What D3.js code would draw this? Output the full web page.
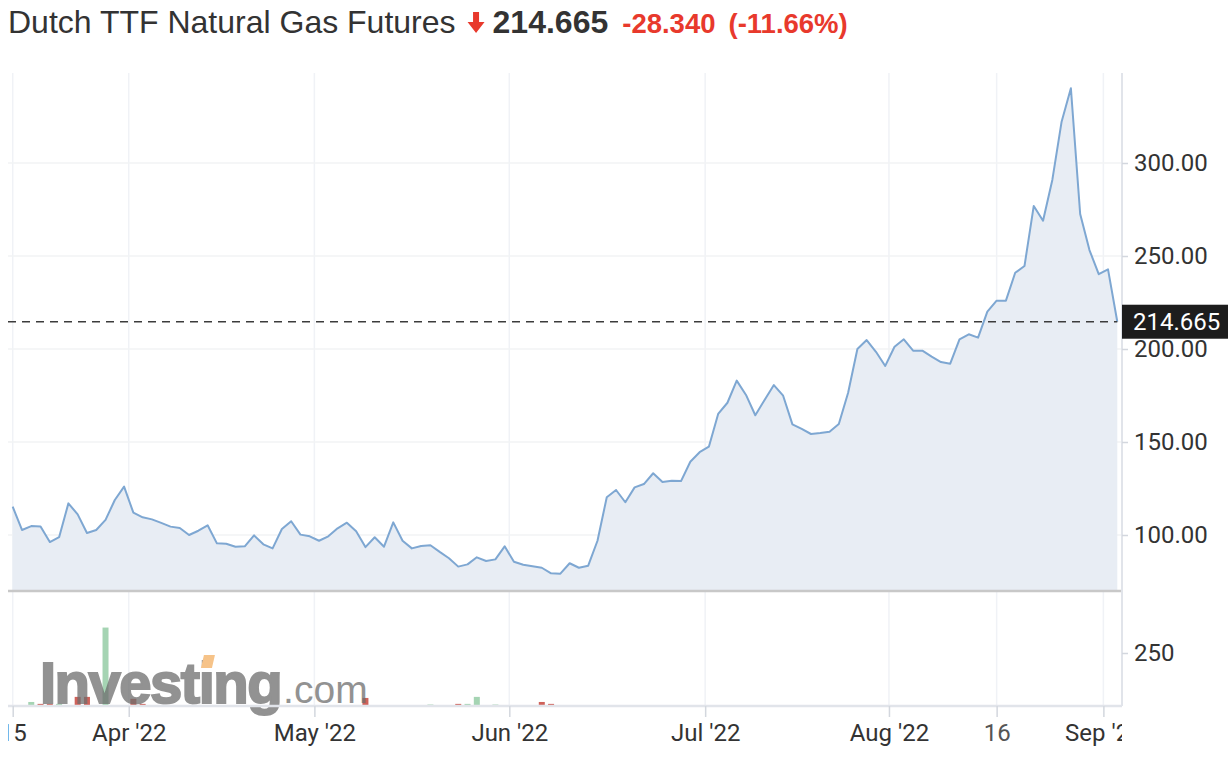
<!DOCTYPE html>
<html lang="en">
<head>
<meta charset="UTF-8">
<title>Dutch TTF Natural Gas Futures</title>
<style>
  body { margin: 0; background: #fff; }
  svg { display: block; }
</style>
</head>
<body>
<script src="https://cdn.jsdelivr.net/npm/d3@7"></script>
<script>
const width = 1230, height = 772

// daily close, 15 Mar 2022 .. 2 Sep 2022 (one value per session)
const prices = [
  115.2, 102.7, 104.8, 104.6, 96.2, 98.8, 117.0, 111.1, 101.1, 102.7,
  108.1, 118.8, 126.0, 112.0, 109.5, 108.4, 106.5, 104.5, 103.8, 100.0,
  102.3, 105.2, 95.5, 95.3, 93.7, 93.9, 99.8, 95.0, 92.8, 103.2,
  107.4, 100.2, 99.3, 96.9, 99.3, 103.6, 106.6, 102.0, 93.5, 98.8,
  93.7, 106.8, 96.9, 92.8, 94.1, 94.5, 90.9, 87.5, 83.0, 84.2,
  88.0, 86.0, 86.9, 93.9, 85.6, 84.0, 83.2, 82.4, 79.4, 79.2,
  84.8, 82.4, 83.5, 96.9, 120.3, 124.2, 117.6, 125.6, 127.4, 133.2,
  128.5, 129.2, 129.0, 139.4, 144.5, 147.5, 165.1, 171.1, 183.0, 175.3,
  164.4, 172.6, 180.6, 174.9, 159.5, 157.0, 154.3, 154.8, 155.5, 159.7,
  176.5, 200.0, 204.8, 198.5, 190.9, 201.2, 205.2, 199.1, 199.1, 195.9,
  193.0, 192.1, 205.2, 207.9, 206.1, 220.1, 226.0, 226.0, 241.0, 244.6,
  276.9, 269.0, 290.9, 322.2, 340.2, 272.6, 253.2, 240.2, 242.8, 214.665
]

// the few sessions with any volume
const volDays   = [2, 3, 4, 5, 7, 8, 10, 13, 14, 38, 45, 48, 49, 50, 52, 57, 58]
const volValues = [19, 10, 10, 10, 43, 43, 370, 34, 10, 38, 7, 10, 10, 43, 7, 19, 10]

// x axis labels, placed on the session index
const tickDays   = [0, 12.5, 32.5, 53.5, 74.6, 94.4, 106, 117.5]
const tickLabels = ["15", "Apr '22", "May '22", "Jun '22", "Jul '22", "Aug '22", "16", "Sep '22"]

const priceTicks = [100, 150, 200, 250, 300]
const volTicks = [250]

const lastPrice = 214.665
const change = "-28.340"
const changePct = "(-11.66%)"

// layout
const left = 8, right = 1122
const priceTop = 73, priceBottom = 590
const volBottom = 706

const svg = d3.select("body").append("svg")
  .attr("width", width)
  .attr("height", height)

const x = d3.scaleLinear().domain([0, prices.length - 1]).range([12.7, 1117.3])
const y = d3.scaleLinear().domain([100, 300]).range([535, 163])
const yv = d3.scaleLinear().domain([0, 250]).range([volBottom, 653])

svg.append("defs").append("clipPath").attr("id", "xclip")
  .append("rect").attr("x", left).attr("y", 0).attr("width", right - left).attr("height", height)

// grid
svg.append("g").selectAll("line")
  .data(tickDays)
  .join("line")
  .attr("x1", d => x(d)).attr("x2", d => x(d))
  .attr("y1", priceTop).attr("y2", volBottom)
  .attr("stroke", "#f0f2f6").attr("stroke-width", 1.5)

svg.append("g").selectAll("line")
  .data(priceTicks)
  .join("line")
  .attr("x1", left).attr("x2", right)
  .attr("y1", d => y(d)).attr("y2", d => y(d))
  .attr("stroke", "#f2f3f5").attr("stroke-width", 1.5)

// price area + line
const area = d3.area()
  .x((d, i) => x(i))
  .y0(priceBottom)
  .y1(d => y(d))
const line = d3.line()
  .x((d, i) => x(i))
  .y(d => y(d))

svg.append("path").datum(prices)
  .attr("d", area)
  .attr("fill", "#e8edf4")
svg.append("path").datum(prices)
  .attr("d", line)
  .attr("fill", "none")
  .attr("stroke", "#7ea7d2")
  .attr("stroke-width", 2)
  .attr("stroke-linejoin", "round")

// last price dashed line
svg.append("line")
  .attr("x1", left).attr("x2", x(prices.length - 1))
  .attr("y1", y(lastPrice)).attr("y2", y(lastPrice))
  .attr("stroke", "#3c3c3c").attr("stroke-width", 1.5)
  .attr("stroke-dasharray", "8,6")

// pane separator
svg.append("line")
  .attr("x1", left).attr("x2", right)
  .attr("y1", priceBottom + 1).attr("y2", priceBottom + 1)
  .attr("stroke", "#c8c8c8").attr("stroke-width", 2.5)

// volume bars, coloured by the day's direction
svg.append("g").selectAll("rect")
  .data(volDays.map((d, i) => ({ day: d, v: volValues[i] })))
  .join("rect")
  .attr("x", d => x(d.day) - 3)
  .attr("width", 6)
  .attr("y", d => yv(d.v))
  .attr("height", d => volBottom - yv(d.v))
  .attr("fill", d => prices[d.day] > prices[d.day - 1] ? "#a5d4b3" : "#cf625a")

// watermark
const wm = svg.append("g").attr("opacity", 0.75)
const wmText = wm.append("text")
  .attr("x", 40).attr("y", 703)
  .attr("font-family", "Liberation Sans, Arial, sans-serif")
  .attr("fill", "#6e6e6e")
wmText.append("tspan")
  .attr("font-size", 58).attr("font-weight", "bold").attr("letter-spacing", -1.5)
  .attr("stroke", "#6e6e6e").attr("stroke-width", 2)
  .text("Investing")
wmText.append("tspan")
  .attr("font-size", 39)
  .attr("dx", 2)
  .text(".com")
// orange dot on the "i"
const iPos = wmText.node().getExtentOfChar(6)
const ix = iPos.x + iPos.width / 2 + 1
wm.append("path")
  .attr("d", `M${ix - 3},655 L${ix + 8},655 L${ix + 5},668 L${ix - 6},668 Z`)
  .attr("fill", "#f4b062")

svg.append("line")
  .attr("x1", left).attr("x2", right)
  .attr("y1", volBottom).attr("y2", volBottom)
  .attr("stroke", "#e1e4ea").attr("stroke-width", 2.5)

// right axis line
svg.append("line")
  .attr("x1", right).attr("x2", right)
  .attr("y1", priceTop).attr("y2", volBottom)
  .attr("stroke", "#e1e4ea").attr("stroke-width", 2)

const styleAxis = g => {
  g.select(".domain").remove()
  g.selectAll(".tick line").attr("stroke", "#d3d7de").attr("stroke-width", 1.5)
  g.selectAll(".tick text")
    .attr("font-family", "Roboto, sans-serif")
    .attr("font-size", 24)
    .attr("fill", "#333")
}

svg.append("g")
  .attr("transform", `translate(${right},0)`)
  .call(d3.axisRight(y).tickValues(priceTicks).tickFormat(d3.format(".2f")).tickSize(6).tickPadding(6))
  .call(styleAxis)

svg.append("g")
  .attr("transform", `translate(${right},0)`)
  .call(d3.axisRight(yv).tickValues(volTicks).tickFormat(d3.format("d")).tickSize(6).tickPadding(6))
  .call(styleAxis)

// last price tag
const tag = svg.append("g").attr("transform", `translate(${right},${y(lastPrice)})`)
tag.append("rect")
  .attr("x", 0).attr("y", -17).attr("width", 106).attr("height", 34)
  .attr("fill", "#1d1d1d")
tag.append("text")
  .attr("x", 11).attr("dy", "0.36em")
  .attr("font-family", "Roboto, sans-serif")
  .attr("font-size", 24)
  .attr("fill", "#fff")
  .text(d3.format(".3f")(lastPrice))

// bottom axis
svg.append("g")
  .attr("transform", `translate(0,${volBottom})`)
  .attr("clip-path", "url(#xclip)")
  .call(d3.axisBottom(x).tickValues(tickDays).tickFormat((d, i) => tickLabels[i]).tickSize(11).tickPadding(7))
  .call(styleAxis)
  .call(g => g.selectAll(".tick text").filter((d, i) => tickLabels[i] === "16").attr("fill", "#555"))

// header
const head = svg.append("g").attr("font-family", "Liberation Sans, Arial, sans-serif")
const title = head.append("text")
  .attr("x", 8).attr("y", 33)
  .attr("font-size", 32).attr("fill", "#333")
  .text("Dutch TTF Natural Gas Futures")
let hx = 8 + title.node().getComputedTextLength() + 12

head.append("path")
  .attr("transform", `translate(${hx},12)`)
  .attr("d", "M5.5,0 L11.5,0 L11.5,10 L17,10 L8.5,21 L0,10 L5.5,10 Z")
  .attr("fill", "#e8392c")
hx += 25

const val = head.append("text")
  .attr("x", hx).attr("y", 33)
  .attr("font-size", 32).attr("font-weight", "bold").attr("fill", "#333")
  .text(d3.format(".3f")(lastPrice))
hx += val.node().getComputedTextLength() + 14

const chg = head.append("text")
  .attr("x", hx).attr("y", 33)
  .attr("font-size", 27.5).attr("font-weight", "bold").attr("fill", "#e8392c")
  .text(change)
hx += chg.node().getComputedTextLength() + 13

head.append("text")
  .attr("x", hx).attr("y", 33)
  .attr("font-size", 27.5).attr("font-weight", "bold").attr("fill", "#e8392c")
  .text(changePct)
</script>
</body>
</html>
